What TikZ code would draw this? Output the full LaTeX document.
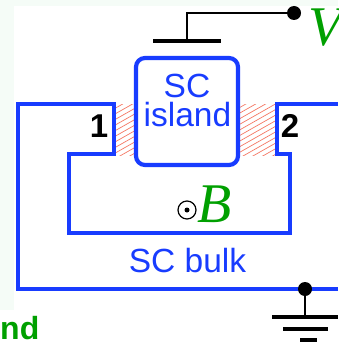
\documentclass[tikz,border=0pt]{standalone}
\usepackage{fontspec}
\setmainfont{Liberation Sans}
\newfontfamily\tms{Liberation Serif}
\definecolor{scblue}{RGB}{24,60,255}
\definecolor{lab}{RGB}{0,160,0}
\definecolor{hatchc}{RGB}{245,120,100}
\definecolor{tint}{RGB}{245,252,247}
\newcommand{\fs}[1]{\fontsize{#1}{#1}\selectfont}
\tikzset{
  sc/.style={draw=scblue,line width=4.2pt,miter limit=10},
  wire/.style={draw=black,line width=2pt},
  bar/.style={draw=black,line width=4pt},
  dotn/.style={circle,fill=black,inner sep=0pt,minimum size=14pt},
  txt/.style={text=scblue,inner sep=0pt,anchor=base,font=\fs{33.5}},
  num/.style={text=black,inner sep=0pt,anchor=base,font=\bfseries\fs{33}},
  sym/.style={text=lab,draw=none,inner sep=0pt,anchor=base west,font=\tms\itshape\fs{56}},
  hatchline/.style={draw=hatchc,line width=0.7pt}
}
\begin{document}
\begin{tikzpicture}[x=1pt,y=-1pt]
\useasboundingbox (0,0) rectangle (338,342);
\clip (0,0) rectangle (338,342);
\fill[tint] (0,0) rectangle (338,342);
\fill[white] (14,6) rectangle (338,342);
\fill[white] (0,310) rectangle (14,342);
% hatching
\begin{scope}
\clip (116,104) rectangle (134,155);
\foreach \i in {0,...,16}{\draw[hatchline] (110,{100+5.6*\i}) -- (140,{100+5.6*\i-17});}
\end{scope}
\begin{scope}
\clip (240,104) rectangle (275,155);
\foreach \i in {0,...,18}{\draw[hatchline] (236,{104+5.6*\i}) -- (280,{104+5.6*\i-25});}
\end{scope}
% SC bulk
\draw[sc] (338,104) -- (277,104) -- (277,154) -- (290,154) -- (290,233) -- (69,233) -- (69,154) -- (114,154) -- (114,104) -- (18,104) -- (18,289) -- (338,289);
% island
\node[sc,rounded corners=9pt,outer sep=0pt,minimum width=102pt,minimum height=107pt,inner sep=0pt,anchor=north west] (island) at (136,58) {};
\node[txt] (sc) at (187,97) {SC};
\node[txt] (isl) at (187.5,126) {island};
\node[txt] (bulk) at (187.5,272) {SC bulk};
\node[num] (one) at (99,137) {1};
\node[num] (two) at (290,137) {2};
% gate
\coordinate (gl) at (153,41.5);
\coordinate (gr) at (221,41.5);
\coordinate (gm) at (187,41.5);
\draw[bar] (gl) -- (gr);
\node[dotn] (vdot) at (294,13) {};
\draw[wire] (gm) |- (vdot);
\node[sym] (v) at (308,46) {V};
% field
\node[circle,draw=black,line width=1.2pt,minimum size=18pt,inner sep=0pt] (odot) at (187,210) {};
\node[circle,fill=black,minimum size=5pt,inner sep=0pt] (odotc) at (odot.center) {};
\node[sym] (b) at (197,222) {B};
% ground
\node[dotn] (gnd) at (305,289) {};
\coordinate (g1) at (305,317);
\draw[wire] (gnd) -- (g1);
\draw[bar] (272,317) -- (338,317);
\draw[bar] (283,329) -- (328,329);
\draw[bar] (300,340) -- (317,340);
% stray label
\node[text=lab,inner sep=0pt,anchor=base east,font=\bfseries\fs{32}] (nd) at (39.5,339) {nd};
\end{tikzpicture}
\end{document}
